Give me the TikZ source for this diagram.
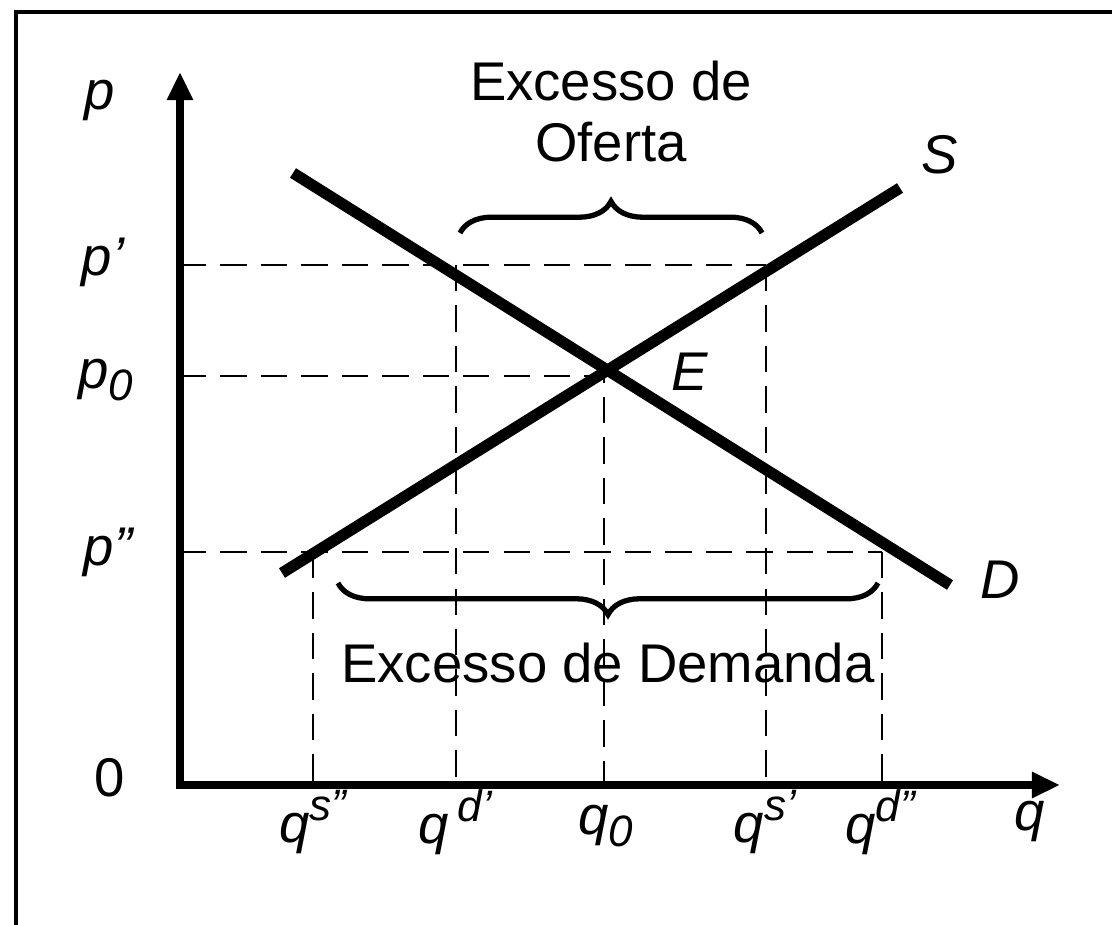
\documentclass[tikz,border=0pt]{standalone}
\usepackage{fontspec}
\setmainfont{Liberation Sans}
\usetikzlibrary{arrows.meta,decorations.pathreplacing,positioning}
\newcommand{\sobre}[1]{\raisebox{0.75ex}{\fontsize{12.5}{14}\selectfont #1}}
\newcommand{\sob}[1]{\raisebox{-0.4ex}{\fontsize{12.5}{14}\selectfont #1}}
\tikzset{
	eixo/.style={line width=2.4pt,line cap=rect,-{Triangle[length=8pt,width=7pt]}},
	curva/.style={line width=3.2pt},
	guia/.style={line width=0.6pt,dash pattern=on 7.5pt off 4pt},
	chave/.style={line width=1.5pt,decorate,decoration={brace,amplitude=9pt}},
	rotulo/.style={font=\fontsize{15.5}{17.5}\selectfont\itshape},
	texto/.style={font=\fontsize{15.5}{17.5}\selectfont,align=center}
}

\begin{document}
\begin{tikzpicture}[x=0.01cm,y=-0.01cm]
	\useasboundingbox (0,0) rectangle (1112,925);
	% moldura
	\draw[line width=1.4pt] (16,925) |- (1112,12);
	
	% eixos
	\coordinate (O) at (180,785);
	\coordinate (ptopo) at (180,72);
	\coordinate (qfim) at (1060,785);
	\draw[eixo] (O) -- (ptopo);
	\draw[eixo] (O) -- (qfim);
	
	% pontos sobre as curvas
	\coordinate (A) at (456,265);
	\coordinate (B) at (766,265);
	\coordinate (E) at (604,376);
	\coordinate (C) at (313,552);
	\coordinate (F) at (882,552);
	
	% linhas de guia
	\draw[guia] (O |- A) -- (B);
	\draw[guia] (A) -- (A |- O);
	\draw[guia] (B) -- (B |- O);
	\draw[guia] (O |- E) -- (E) -- (E |- O);
	\draw[guia] (O |- C) -- (F);
	\draw[guia] (C) -- (C |- O);
	\draw[guia] (F) -- (F |- O);
	
	% oferta e procura
	\coordinate (S1) at (282,573);
	\coordinate (S2) at (900,188);
	\coordinate (D1) at (293,173);
	\coordinate (D2) at (950,585);
	\draw[curva] (S1) -- (S2);
	\draw[curva] (D1) -- (D2);
	\node[rotulo] (lS) at (940,155) {S};
	\node[rotulo] (lE) at (690,372) {E};
	\node[rotulo] (lD) at (1000,580) {D};
	
	% chavetas
	\draw[chave] (460,233) -- node[texto,above=16pt] (oferta) {Excesso de\\Oferta} (762,233);
	\draw[chave,decoration={mirror}] (338,583) -- node[texto,below=13pt] (demanda) {Excesso de Demanda} (878,583);
	
	% rotulos dos eixos
	\node[rotulo] (lp) at (100,100) {p};
	\node[rotulo] (lp1) at (103,262) {p'};
	\node[rotulo] (lp0) at (106,380) {p\sob{0}};
	\node[rotulo] (lp2) at (108,552) {p''};
	\node[texto] (l0) at (110,778) {0};
	\node[rotulo] (lqs2) at (313,822) {q\sobre{s''}};
	\node[rotulo] (lqd1) at (455,822) {q\,\sobre{d'}};
	\node[rotulo] (lq0) at (606,826) {q\sob{0}};
	\node[rotulo] (lqs1) at (765,822) {q\sobre{s'}};
	\node[rotulo] (lqd2) at (880,822) {q\sobre{d''}};
	\node[rotulo] (lq) at (1030,822) {q};
\end{tikzpicture}
\end{document}
